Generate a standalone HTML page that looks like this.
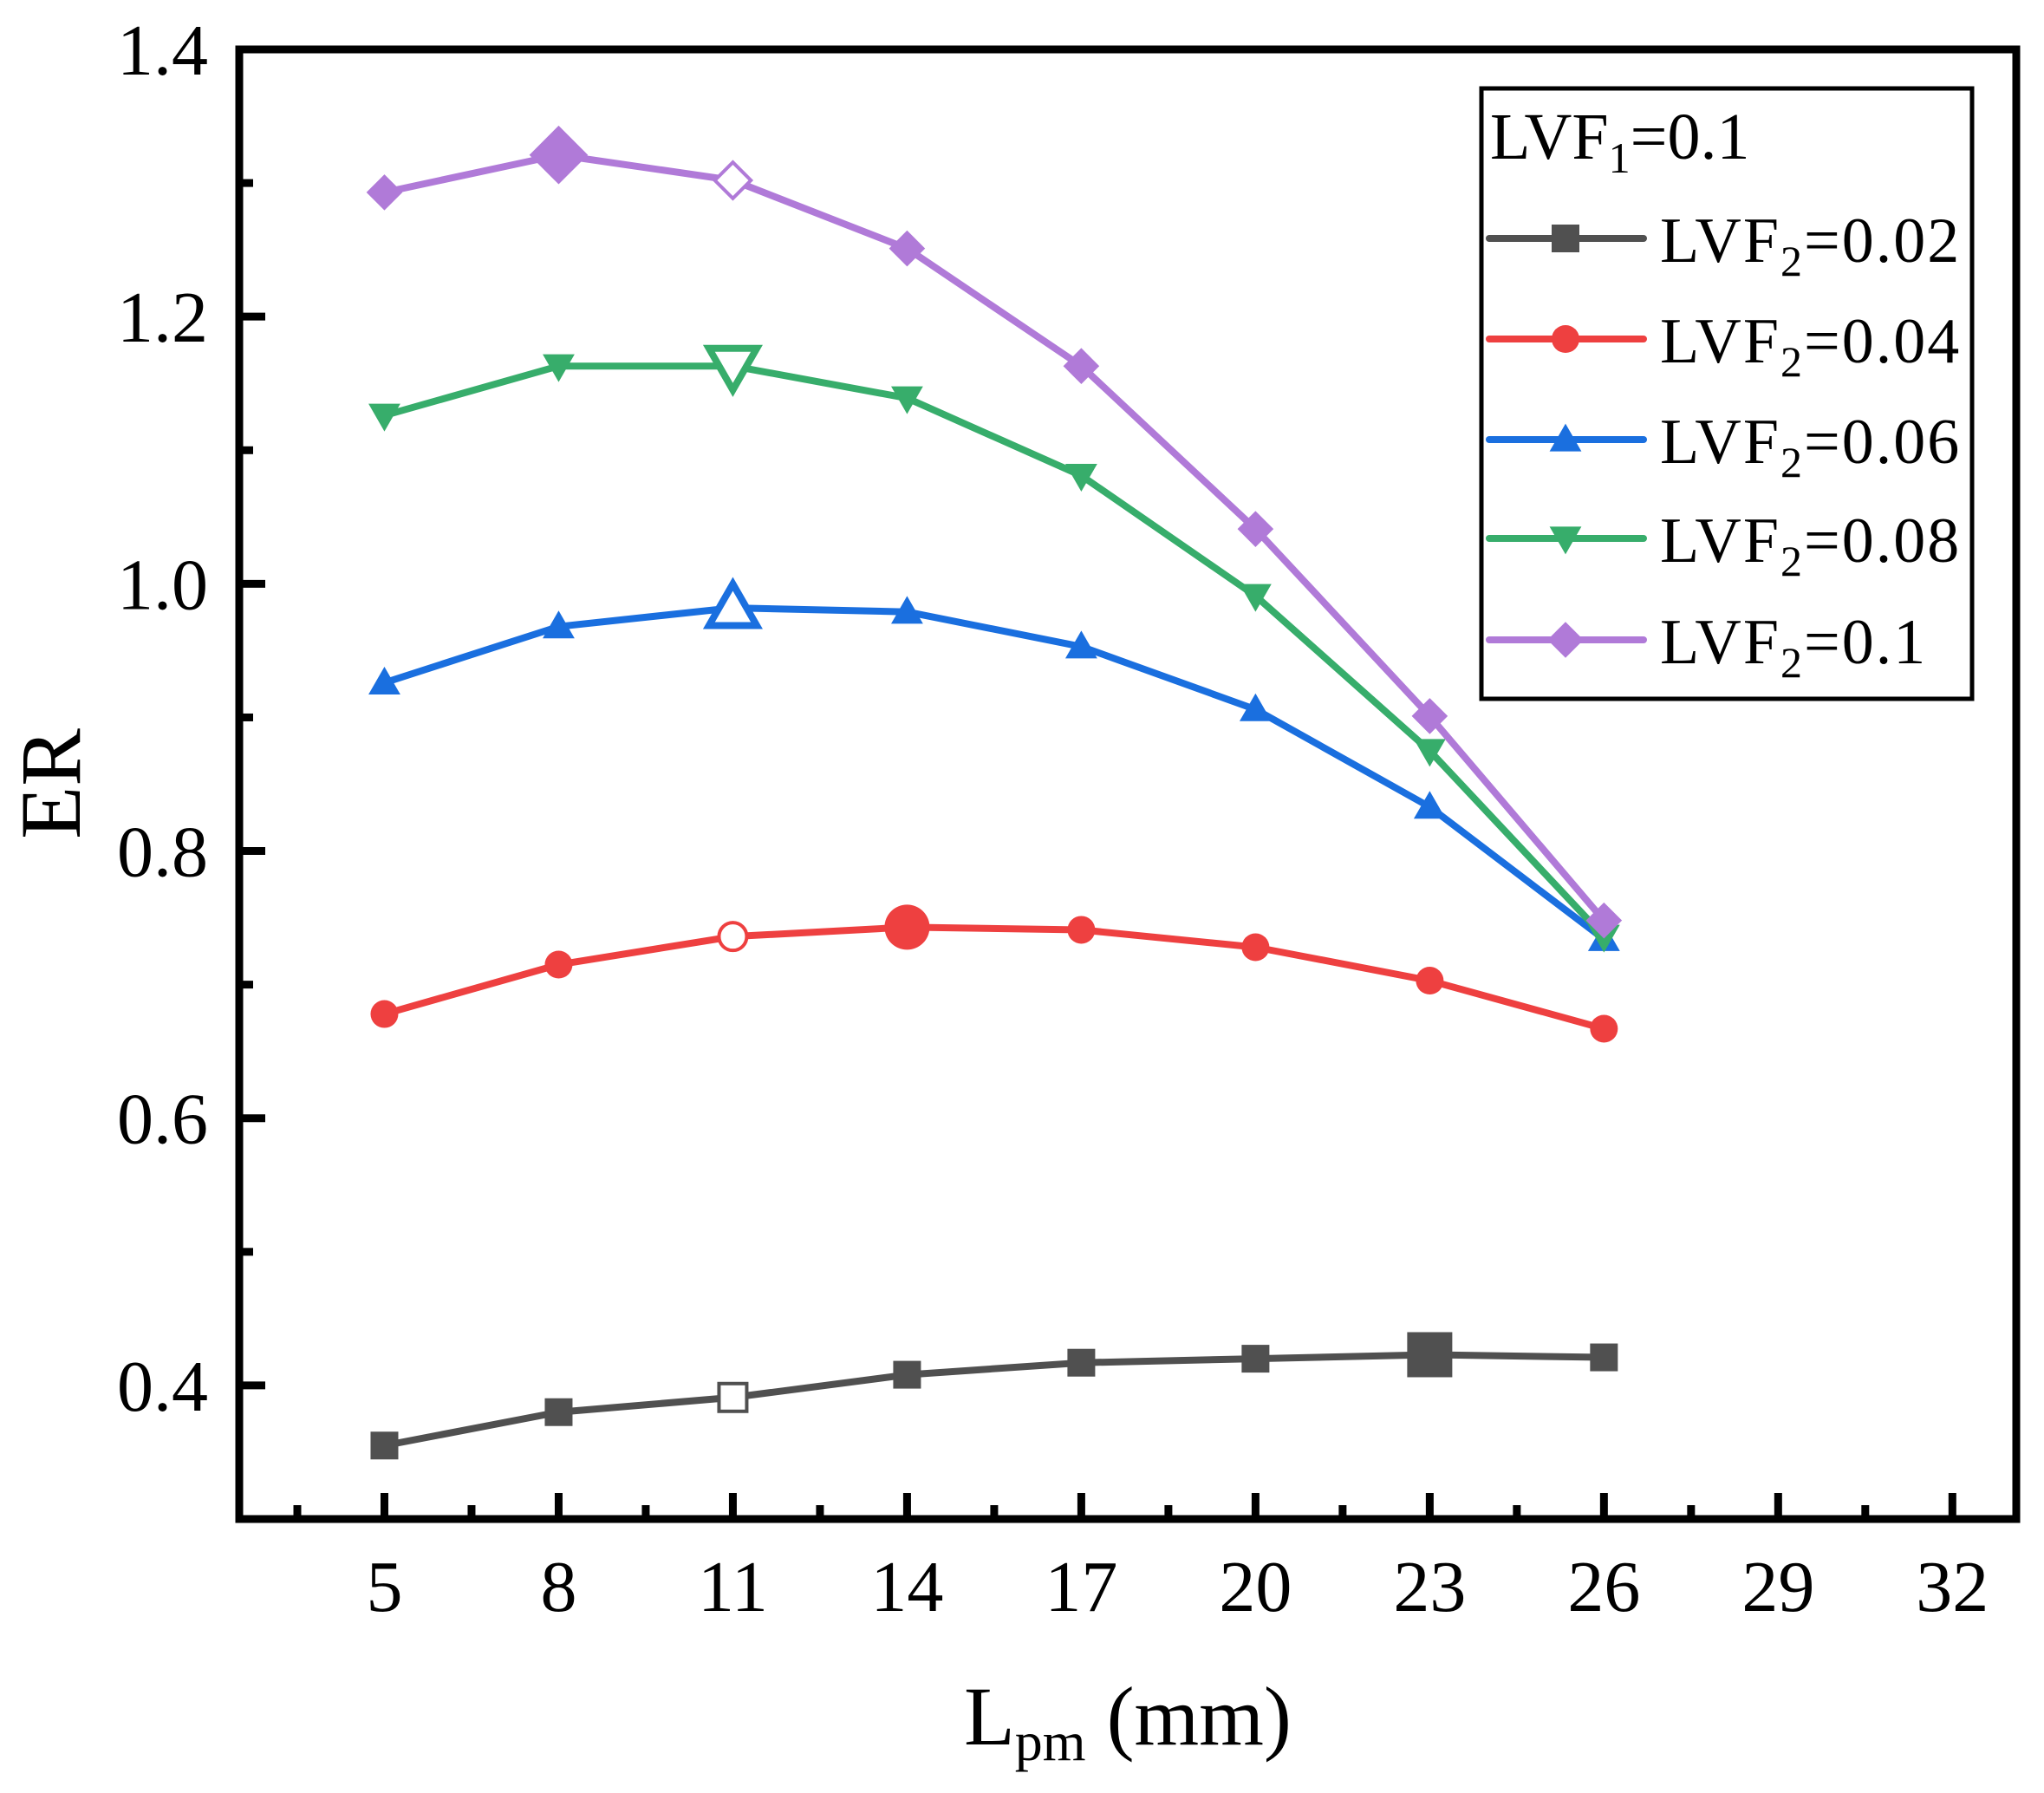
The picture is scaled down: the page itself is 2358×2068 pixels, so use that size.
<!DOCTYPE html>
<html><head><meta charset="utf-8"><style>
html,body{margin:0;padding:0;background:#fff;}
svg{display:block;font-family:"Liberation Serif",serif;}
</style></head>
<body>
<svg id="chart" width="2358" height="2068" viewBox="0 0 2358 2068" xmlns="http://www.w3.org/2000/svg">
<g id="grid-ticks"></g>
<g id="series"></g>
<rect x="276" y="57" width="2050" height="1695" fill="none" stroke="#000" stroke-width="9"/>
<text transform="translate(92,904) rotate(-90)" text-anchor="middle" font-size="100">ER</text>
<text x="1301" y="2012" text-anchor="middle" font-size="96">L<tspan font-size="64" dy="18">pm</tspan><tspan dy="-18"> (mm)</tspan></text>
<g id="legend">
<rect x="1709" y="102" width="566" height="704" fill="#fff" stroke="#000" stroke-width="5"/>
<text x="1719" y="183" font-size="76">LVF<tspan font-size="50" dy="16">1</tspan><tspan dy="-16">=0.1</tspan></text>
</g>
</svg>
<script>
const xValues = [5, 8, 11, 14, 17, 20, 23, 26];
const seriesNames = ['LVF2=0.02','LVF2=0.04','LVF2=0.06','LVF2=0.08','LVF2=0.1'];
const legendValues = ['0.02','0.04','0.06','0.08','0.1'];
const s002 = [0.355, 0.380, 0.391, 0.408, 0.417, 0.420, 0.423, 0.421];
const s004 = [0.678, 0.715, 0.736, 0.743, 0.741, 0.728, 0.703, 0.667];
const s006 = [0.926, 0.968, 0.982, 0.979, 0.953, 0.906, 0.833, 0.734];
const s008 = [1.126, 1.163, 1.163, 1.139, 1.081, 0.991, 0.875, 0.736];
const s010 = [1.293, 1.321, 1.302, 1.251, 1.163, 1.041, 0.901, 0.748];
const xTickLabels = [5, 8, 11, 14, 17, 20, 23, 26, 29, 32];
const yTickLabels = [0.4, 0.6, 0.8, 1.0, 1.2, 1.4];

const NS = 'http://www.w3.org/2000/svg';
const L = 276, R = 2326, T = 57, B = 1752;
const xMin = 2.5, xMax = 33.1, yMin = 0.3, yMax = 1.4;
function xs(v){ return L + (v - xMin) / (xMax - xMin) * (R - L); }
function ys(v){ return B - (v - yMin) / (yMax - yMin) * (B - T); }
function mk(tag, attrs, parent){ const e = document.createElementNS(NS, tag); for (const k in attrs) e.setAttribute(k, attrs[k]); parent.appendChild(e); return e; }

const axes = document.getElementById('grid-ticks');
xTickLabels.forEach(v => {
  const t = mk('line', {x1: xs(v), x2: xs(v), y1: B, y2: B - 30, stroke: '#000', 'stroke-width': 9}, axes);
  
  
  const m = mk('line', {x1: xs(v - 1.5), x2: xs(v - 1.5), y1: B, y2: B - 16, stroke: '#000', 'stroke-width': 9}, axes);
  
  
  const lb = mk('text', {x: xs(v), y: 1858, 'text-anchor': 'middle', 'font-size': 84}, axes);
  lb.textContent = v;
  
  
});
yTickLabels.forEach(v => {
  const t = mk('line', {x1: L, x2: L + 30, y1: ys(v), y2: ys(v), stroke: '#000', 'stroke-width': 9}, axes);
  
  
  if (v > 0.4) {
    const m = mk('line', {x1: L, x2: L + 16, y1: ys(v - 0.1), y2: ys(v - 0.1), stroke: '#000', 'stroke-width': 9}, axes);
    
    
  }
  const lb = mk('text', {x: 240, y: ys(v) + 29, 'text-anchor': 'end', 'font-size': 84}, axes);
  lb.textContent = v.toFixed(1);
  
  
});

function marker(parent, shape, cx, cy, r, color, open){
  const fill = open ? '#fff' : color;
  const sw = open ? 4 : 0;
  let e;
  if (shape === 'square') e = mk('rect', {x: cx - r, y: cy - r, width: 2*r, height: 2*r, fill, stroke: color, 'stroke-width': sw}, parent);
  else if (shape === 'circle') e = mk('circle', {cx, cy, r, fill, stroke: color, 'stroke-width': sw}, parent);
  else if (shape === 'up') e = mk('polygon', {points: `${cx},${cy - r*1.15} ${cx + r*1.15},${cy + r*0.85} ${cx - r*1.15},${cy + r*0.85}`, fill, stroke: color, 'stroke-width': sw*1.5, 'stroke-linejoin': 'miter'}, parent);
  else if (shape === 'down') e = mk('polygon', {points: `${cx},${cy + r*1.15} ${cx + r*1.15},${cy - r*0.85} ${cx - r*1.15},${cy - r*0.85}`, fill, stroke: color, 'stroke-width': sw*1.5}, parent);
  else e = mk('polygon', {points: `${cx},${cy - r*1.3} ${cx + r*1.3},${cy} ${cx},${cy + r*1.3} ${cx - r*1.3},${cy}`, fill, stroke: color, 'stroke-width': sw}, parent);
  return e;
}

const seriesData = [s002, s004, s006, s008, s010];
const colors = ['#505050', '#ee4040', '#1a6fdf', '#37ad6b', '#b07ad8'];
const shapes = ['square', 'circle', 'up', 'down', 'diamond'];
const openIdx = [[2], [2], [2], [2], [2]];
const bigIdx = [[6], [3], [2], [2], [1]];
const sg = document.getElementById('series');
seriesData.forEach((vals, si) => {
  const g = mk('g', {}, sg);
  
  
  const pts = vals.map((v, i) => xs(xValues[i]) + ',' + ys(v)).join(' ');
  const pl = mk('polyline', {points: pts, fill: 'none', stroke: colors[si], 'stroke-width': 8, 'stroke-linejoin': 'round'}, g);
  
  
  vals.forEach((v, i) => {
    const big = bigIdx[si].includes(i);
    const open = openIdx[si].includes(i) && !(si === 2 || si === 3) ? true : (openIdx[si].includes(i) && big);
    let r = big ? 26 : 16;
    if (si === 2 && i === 2) r = 24;
    if (si === 3 && i === 2) r = 24;
    const m = marker(g, shapes[si], xs(xValues[i]), ys(v), r, colors[si], open);
    if ((si === 2 || si === 3) && i === 2) m.setAttribute('stroke-width', 8);
    
    
  });
});

const lg = document.getElementById('legend');
const rowsY = [275, 391, 507, 621, 738];
seriesNames.forEach((n, i) => {
  const y = rowsY[i];
  const ln = mk('line', {x1: 1718, x2: 1896, y1: y, y2: y, stroke: colors[i], 'stroke-width': 8, 'stroke-linecap': 'round'}, lg);
  
  
  const m = marker(lg, shapes[i], 1806, y, 16, colors[i], false);
  
  
  const t = mk('text', {x: 1915, y: y + 27, 'font-size': 74, 'letter-spacing': 2}, lg);
  t.innerHTML = 'LVF<tspan font-size="50" dy="16">2</tspan><tspan dy="-16">=' + legendValues[i] + '</tspan>';
  
  
});
</script>
</body></html>
